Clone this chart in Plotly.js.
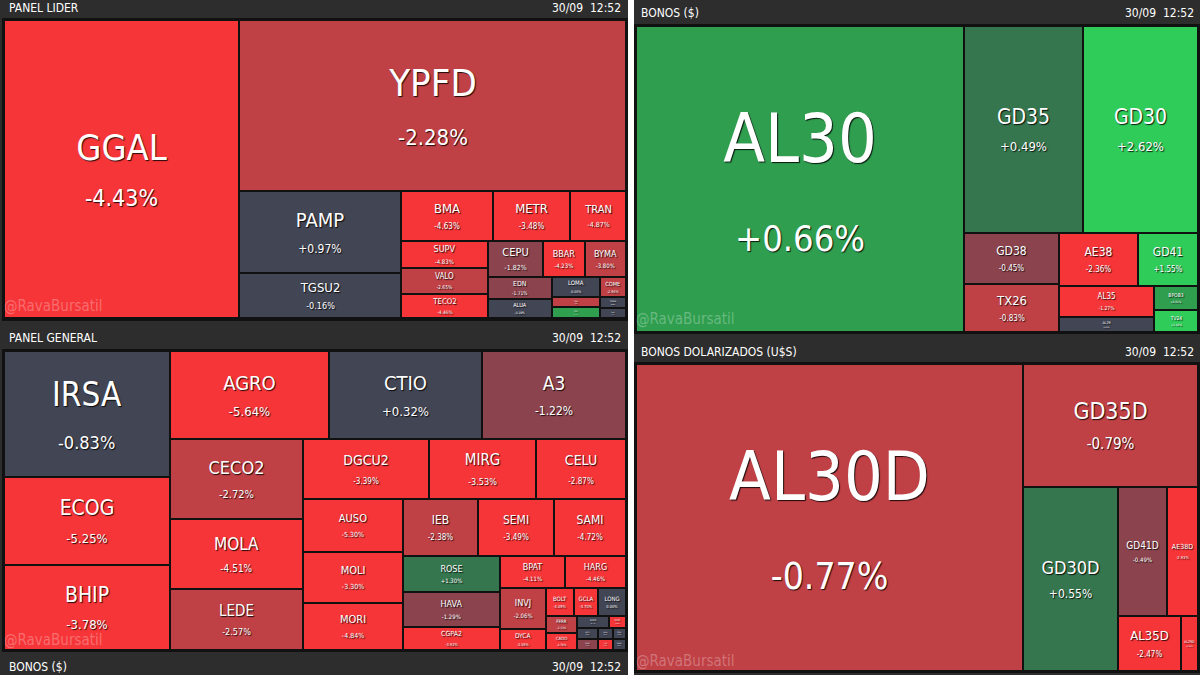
<!DOCTYPE html>
<html><head><meta charset="utf-8">
<script src="https://cdn.plot.ly/plotly-3.0.1.min.js"></script>
<style>html,body{margin:0;padding:0;background:#2d2d2d;}#chart{width:1200px;height:675px;}</style>
</head><body><div id="chart"></div>
<script>
// ---------- DATA ----------
// PANEL LIDER
const liderNames   = ['GGAL','YPFD','PAMP','TGSU2','BMA','METR','TRAN','SUPV','VALO','TECO2','CEPU','BBAR','BYMA','EDN','ALUA','LOMA','TXAR','CVH','COME','TGNO4','CRES'];
const liderChanges = [-4.43,-2.28,0.97,-0.16,-4.63,-3.48,-4.87,-4.83,-2.65,-4.46,-1.82,-4.23,-3.80,-1.71,-0.19,-0.05,-2.61,1.67,-2.94,0.00,-0.33];
const liderWeights = [70030,66177,13284,7290,4600,3850,2800,2349,2262,2088,1980,1512,1476,1408,1216,960,480,528,520,286,260];
const liderTree = ['GGAL', ['YPFD', [['PAMP','TGSU2'], [['BMA','METR','TRAN'], [['SUPV','VALO','TECO2'], [['CEPU','BBAR','BYMA'], [['EDN','ALUA'], ['LOMA','TXAR','CVH'], ['COME','TGNO4','CRES']]]]]]]];

// PANEL GENERAL
const generalNames   = ['IRSA','ECOG','BHIP','AGRO','CTIO','A3','CECO2','MOLA','LEDE','DGCU2','MIRG','CELU','AUSO','MOLI','MORI','IEB','SEMI','SAMI','ROSE','HAVA','CGPA2','BPAT','HARG','INVJ','DYCA','BOLT','GCLA','LONG','FERR','CADO','GARO','GAMI','RICH','PATA','OEST','CARC','FIPL','GRIM'];
const generalChanges = [-0.83,-5.25,-3.78,-5.64,0.32,-1.22,-2.72,-4.51,-2.57,-3.39,-3.53,-2.87,-5.30,-3.30,-4.84,-2.38,-3.49,-4.72,1.30,-1.29,-3.92,-4.11,-4.46,-2.06,-3.58,-4.05,-3.70,0.00,-2.13,-4.76,-0.12,-3.85,0.00,-0.22,0.00,-1.45,-4.17,0.00];
const generalWeights = [20916,14608,14110,13992,13464,12672,10640,9310,8113,7560,6420,5400,5300,5100,4700,4275,4332,4104,3492,3395,2231,2080,1952,1886,966,784,672,784,527,527,384,204,231,165,143,231,165,143];
const generalTree = [['IRSA','ECOG','BHIP'], [['AGRO','CTIO','A3'], [['CECO2','MOLA','LEDE'], [['DGCU2','MIRG','CELU'], [['AUSO','MOLI','MORI'], [['IEB','SEMI','SAMI'], [['ROSE','HAVA','CGPA2'], [['BPAT','HARG'], [['INVJ','DYCA'], [['BOLT','GCLA','LONG'], [['FERR','CADO'], [['GARO','GAMI'], ['RICH','PATA','OEST'], ['CARC','FIPL','GRIM']]]]]]]]]]]]];

// BONOS ($)
const bonosNames   = ['AL30','GD35','GD30','GD38','TX26','AE38','GD41','AL35','AL29','BPOB3','TV24'];
const bonosChanges = [0.66,0.49,2.62,-0.45,-0.83,-2.36,1.55,-1.27,0.00,0.81,1.42];
const bonosWeights = [100368,24633,23805,4845,4560,4187,3180,2945,1425,1056,968];
const bonosTree = ['AL30', [['GD35','GD30'], [['GD38','TX26'], [['AE38','GD41'], [['AL35','AL29'], ['BPOB3','TV24']]]]]];

// BONOS DOLARIZADOS (U$S)
const dolarNames   = ['AL30D','GD35D','GD30D','GD41D','AE38D','AL35D','AL29D'];
const dolarChanges = [-0.77,-0.79,0.55,-0.49,-2.93,-2.47,-3.13];
const dolarWeights = [118809,21525,17480,6321,3999,3465,935];
const dolarTree = ['AL30D', ['GD35D', ['GD30D', [['GD41D','AE38D'], ['AL35D','AL29D']]]]];

const headerDate = '30/09  12:52';

// ---------- STYLES ----------
const PAL = {'-3':'#f63538','-2':'#bf4045','-1':'#8b444e','0':'#414554','1':'#35764e','2':'#2f9e4f','3':'#30cc5a'};
const liderLevels   = [-3,-2,0,0,-3,-3,-3,-3,-2,-3,-1,-3,-2,-1,0,0,-2,2,-2,0,0];
const liderFonts    = [36,38,20,13,13,13,11,9,8,8,11,9,9,7,7,7,5,5,6,4,4];
const liderPct      = [23,22,12,9,8,8,7,6,5,5,7,6,6,5,4,4,3,3,4,3,3];
const generalLevels = [0,-3,-3,-3,0,-1,-2,-3,-2,-3,-3,-3,-3,-3,-3,-2,-3,-3,1,-1,-3,-3,-3,-2,-3,-3,-3,0,-2,-3,0,-3,0,0,0,-1,-3,0];
const generalFonts  = [33,21,21,20,20,19,18,17,15,14,15,14,11,11,11,12,12,12,9,9,7,9,9,9,7,6,6,6,6,6,3,3,3,3,3,3,3,3];
const generalPct    = [18,13,13,13,13,12,11,10,9,8,9,8,7,7,7,8,8,8,6,6,4,6,6,6,4,4,4,4,4,4,2,2,2,2,2,2,2,2];
const bonosLevels   = [2,1,3,-1,-2,-3,3,-3,0,2,3];
const bonosFonts    = [68,21,21,12,13,12,12,8,5,5,5];
const bonosPct      = [36,13,13,8,8,8,8,5,3,3,3];
const dolarLevels   = [-2,-2,1,-1,-3,-3,-3];
const dolarFonts    = [68,23,18,10,7,13,5];
const dolarPct      = [37,15,12,6,4,8,3];

const LEAF_FONT = '"Liberation Sans Narrow", "Arial Narrow", "DejaVu Sans Condensed", sans-serif';
const HFONT = '"Liberation Sans Narrow", "DejaVu Sans Condensed", Lato, sans-serif';
const W = 1200, H = 675;

function buildTrace(tree, names, changes, weights, levels, fonts, pcts, box, prefix) {
  const ids=[], labels=[], parents=[], values=[], colors=[], texts=[], sizes=[];
  let gc = 0;
  function walk(node, parentId) {
    if (typeof node === 'string') {
      const i = names.indexOf(node);
      ids.push(prefix + node); labels.push(node); parents.push(parentId);
      values.push(weights[i]); colors.push(PAL[String(levels[i])]);
      const c = changes[i];
      const pct = (c > 0 ? '+' : '') + c.toFixed(2) + '%';
      texts.push(node + '<br><span style="font-size:' + pcts[i] + 'px">' + pct + '</span>');
      sizes.push(fonts[i]);
    } else {
      const id = prefix + 'g' + (gc++);
      ids.push(id); labels.push(id); parents.push(parentId); values.push(0);
      colors.push('#111111'); texts.push(''); sizes.push(10);
      node.forEach(ch => walk(ch, id));
    }
  }
  walk(tree, '');
  return {
    type: 'treemap', ids, labels, parents, values,
    branchvalues: 'remainder', sort: false,
    text: texts, textinfo: 'text', textposition: 'middle center',
    textfont: {size: sizes, color: '#ffffff', family: LEAF_FONT, stretch: 'condensed', shadow: '1px 1px 1px rgba(0,0,0,0.85)'},
    marker: {colors, line: {color: '#111111', width: 2}, pad: {t: 0, l: 0, r: 0, b: 0}},
    tiling: {packing: 'slice-dice', pad: 0},
    pathbar: {visible: false},
    hoverinfo: 'none',
    domain: {x: [box[0] / W, box[1] / W], y: [1 - box[3] / H, 1 - box[2] / H]}
  };
}

const data = [
  buildTrace(liderTree, liderNames, liderChanges, liderWeights, liderLevels, liderFonts, liderPct, [4, 626, 20, 318], 'L_'),
  buildTrace(generalTree, generalNames, generalChanges, generalWeights, generalLevels, generalFonts, generalPct, [4, 626, 351, 650], 'G_'),
  buildTrace(bonosTree, bonosNames, bonosChanges, bonosWeights, bonosLevels, bonosFonts, bonosPct, [636, 1198, 26, 332], 'B_'),
  buildTrace(dolarTree, dolarNames, dolarChanges, dolarWeights, dolarLevels, dolarFonts, dolarPct, [636, 1198, 364, 671], 'D_')
];

function rect(x0, x1, y0, y1, color) {
  return {type: 'rect', xref: 'paper', yref: 'paper', x0: x0 / W, x1: x1 / W, y0: 1 - y1 / H, y1: 1 - y0 / H,
          fillcolor: color, line: {width: 0}, layer: 'below'};
}
function ann(text, x, y, anchor, size, color) {
  return {text, x: x / W, y: 1 - y / H, xref: 'paper', yref: 'paper', xanchor: anchor, yanchor: 'middle',
          showarrow: false, font: {size, color, family: HFONT, stretch: 'condensed'}};
}
const WM = 'rgba(255,255,255,0.28)';
const layout = {
  width: W, height: H, margin: {l: 0, r: 0, t: 0, b: 0},
  paper_bgcolor: '#2d2d2d', plot_bgcolor: '#2d2d2d', showlegend: false,
  shapes: [
    rect(2, 628, 18, 321, '#111111'),
    rect(2, 628, 349, 652, '#111111'),
    rect(634, 1200, 24, 334, '#111111'),
    rect(634, 1200, 362, 673, '#111111'),
    rect(628, 634, 0, 675, '#ffffff')
  ],
  annotations: [
    ann('PANEL LIDER', 7, 8, 'left', 12, '#ffffff'),
    ann(headerDate, 623, 8, 'right', 12, '#ffffff'),
    ann('PANEL GENERAL', 7, 338, 'left', 12, '#ffffff'),
    ann(headerDate, 623, 338, 'right', 12, '#ffffff'),
    ann('BONOS ($)', 7, 667, 'left', 12, '#ffffff'),
    ann(headerDate, 623, 667, 'right', 12, '#ffffff'),
    ann('BONOS ($)', 639, 13, 'left', 12, '#ffffff'),
    ann(headerDate, 1196, 13, 'right', 12, '#ffffff'),
    ann('BONOS DOLARIZADOS (U$S)', 639, 352, 'left', 12, '#ffffff'),
    ann(headerDate, 1196, 352, 'right', 12, '#ffffff'),
    ann('@RavaBursatil', 2, 306, 'left', 15, WM),
    ann('@RavaBursatil', 2, 640, 'left', 15, WM),
    ann('@RavaBursatil', 634, 319, 'left', 15, WM),
    ann('@RavaBursatil', 634, 661, 'left', 15, WM)
  ]
};
Plotly.newPlot('chart', data, layout, {displayModeBar: false, staticPlot: true});
</script></body></html>
